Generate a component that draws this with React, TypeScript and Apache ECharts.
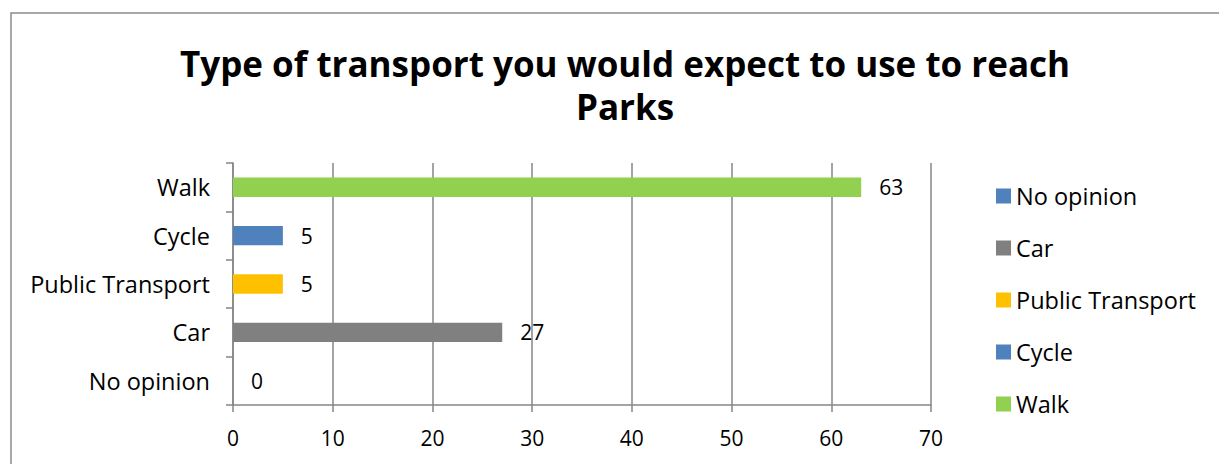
import React, { useEffect, useRef } from "react";
import * as echarts from "echarts";

const categories = ["No opinion", "Car", "Public Transport", "Cycle", "Walk"];
const values = [0, 27, 5, 5, 63];
const colors = ["#4F81BD", "#808080", "#FFC000", "#4F81BD", "#92D050"];
const xTicks = { min: 0, max: 70, interval: 10 };

const FONT = "'Open Sans', 'DejaVu Sans', sans-serif";

export default function App() {
  const ref = useRef<HTMLDivElement>(null);
  useEffect(() => {
    if (!ref.current) return;
    const chart = echarts.init(ref.current, null, { renderer: "svg" });
    const series = categories.map((name, i) => ({
      name,
      type: "bar",
      stack: "all",
      barWidth: "40%",
      itemStyle: { color: colors[i] },
      label: {
        show: true,
        position: "right",
        distance: 18,
        color: "#000",
        fontSize: 21,
        fontFamily: FONT,
      },
      data: categories.map((_, j) => (j === i ? values[i] : "-")),
    }));
    chart.setOption({
      animation: false,
      backgroundColor: "#fff",
      textStyle: { fontFamily: FONT },
      title: {
        text: "Type of transport you would expect to use to reach\nParks",
        left: 620,
        top: 37,
        textAlign: "center",
        textStyle: {
          fontFamily: FONT,
          fontSize: 35,
          fontWeight: "bold",
          color: "#000",
          lineHeight: 43,
        },
      },
      graphic: [
        {
          type: "rect",
          shape: { x: 11, y: 13, width: 1400, height: 600 },
          style: { fill: "none", stroke: "#8c8c8c", lineWidth: 1.5 },
          silent: true,
          z: -1,
        },
      ],
      legend: {
        orient: "vertical",
        left: 991,
        top: 178,
        itemWidth: 15,
        itemHeight: 15,
        itemGap: 26,
        icon: "rect",
        data: categories,
        textStyle: { fontFamily: FONT, fontSize: 23.5, color: "#000", lineHeight: 26 },
      },
      grid: { left: 233, right: 288, top: 163, bottom: 59, containLabel: false },
      xAxis: {
        type: "value",
        min: xTicks.min,
        max: xTicks.max,
        interval: xTicks.interval,
        axisLine: { show: true, lineStyle: { color: "#868686", width: 1.5 } },
        axisTick: { show: true, length: 7, lineStyle: { color: "#868686", width: 1.5 } },
        splitLine: { show: true, lineStyle: { color: "#868686", width: 1.5 } },
        axisLabel: { color: "#000", fontSize: 21, fontFamily: FONT, margin: 22 },
      },
      yAxis: {
        type: "category",
        data: categories,
        axisLine: { show: true, lineStyle: { color: "#868686", width: 1.5 } },
        axisTick: { show: true, length: 7, lineStyle: { color: "#868686", width: 1.5 } },
        axisLabel: { color: "#000", fontSize: 23.5, fontFamily: FONT, margin: 23 },
        splitLine: { show: false },
      },
      series,
    });
    return () => chart.dispose();
  }, []);
  return (
    <div
      ref={ref}
      style={{ position: "fixed", left: 0, top: 0, width: 1219, height: 464 }}
    />
  );
}
